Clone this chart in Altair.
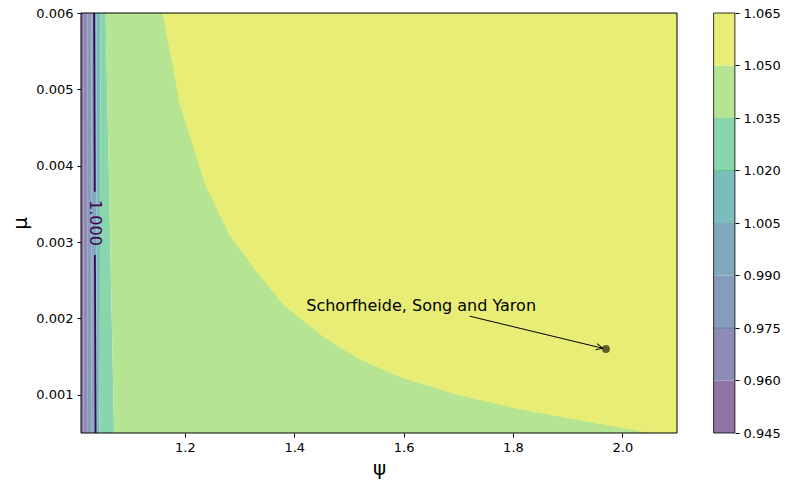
import altair as alt
import pandas as pd

# contour levels and band colours (viridis, alpha 0.6 on white)
levels = [0.945, 0.960, 0.975, 0.990, 1.005, 1.020, 1.035, 1.050, 1.065]
band_colors = ["#9174a6", "#8e8bb6", "#879bba", "#80aabb",
               "#7abdba", "#89d6ad", "#b5e593", "#e8ee75"]
band_names = [f"{levels[i]:.3f}-{levels[i+1]:.3f}" for i in range(8)]

psi_range = [1.01, 2.1]
mu_range = [0.0005, 0.006]

# band boundaries on the left (psi at mu top / mu bottom)
edge_psi_top = [1.0138, 1.0221, 1.0294, 1.0385, 1.0458, 1.0550]
edge_psi_bottom = [1.0148, 1.0221, 1.0294, 1.0385, 1.0440, 1.0705]

# boundary of the 1.050-1.065 region
curve_psi = [1.159, 1.191, 1.237, 1.282, 1.331, 1.380, 1.453, 1.515,
             1.594, 1.698, 1.818, 1.941, 2.051]
curve_mu = [0.0060, 0.0048, 0.00375, 0.00309, 0.00261, 0.00218, 0.00176,
            0.00148, 0.00123, 0.00100, 0.00080, 0.00064, 0.0005]

# 1.000 contour line (two segments around label)
line_seg = ["a", "a", "b", "b"]
line_psi = [1.0340, 1.0352, 1.0354, 1.0367]
line_mu = [0.0060, 0.00366, 0.00283, 0.0005]
line_label = ["1.000"]
line_label_psi = [1.0353]
line_label_mu = [0.00325]

# annotation
point_psi = [1.97]
point_mu = [0.0016]
note_text = ["Schorfheide, Song and Yaron"]
note_psi = [1.422]
note_mu = [0.0021]
arrow_psi = [1.7207, 1.9639]
arrow_mu = [0.00203, 0.00161]

# colourbar edge lines
cb_line_levels = [0.975, 1.020]
cb_line_colors = ["#5f80b2", "#5cc38c"]

# ---------------- data frames ----------------
rows = []
for i in range(7):
    lt = psi_range[0] if i == 0 else edge_psi_top[i - 1]
    lb = psi_range[0] if i == 0 else edge_psi_bottom[i - 1]
    rt = edge_psi_top[i] if i < 6 else psi_range[1]
    rb = edge_psi_bottom[i] if i < 6 else psi_range[1]
    rows.append(dict(band=band_names[i], mu=mu_range[0], left=lb, right=rb))
    rows.append(dict(band=band_names[i], mu=mu_range[1], left=lt, right=rt))
bands_df = pd.DataFrame(rows)

yellow_df = pd.DataFrame({"mu": curve_mu[::-1], "left": curve_psi[::-1],
                          "right": [psi_range[1]] * len(curve_mu),
                          "band": [band_names[7]] * len(curve_mu)})

line_df = pd.DataFrame({"seg": line_seg, "psi": line_psi, "mu": line_mu,
                        "idx": list(range(len(line_psi)))})
label_df = pd.DataFrame({"t": line_label, "psi": line_label_psi, "mu": line_label_mu})
point_df = pd.DataFrame({"psi": point_psi, "mu": point_mu})
note_df = pd.DataFrame({"t": note_text, "psi": note_psi, "mu": note_mu})
arrow_df = pd.DataFrame({"psi": [arrow_psi[0]], "mu": [arrow_mu[0]],
                         "psi2": [arrow_psi[1]], "mu2": [arrow_mu[1]]})
head_df = pd.DataFrame({"psi": [arrow_psi[1]], "mu": [arrow_mu[1]]})
frame_df = pd.DataFrame({"left": [psi_range[0]], "right": [psi_range[1]],
                         "mu": [mu_range[0]], "mu2": [mu_range[1]]})

cb_df = pd.DataFrame({"band": band_names, "lo": levels[:-1], "hi": levels[1:]})
cb_frame_df = pd.DataFrame({"lo": [levels[0]], "hi": [levels[-1]]})
cb_lines_df = pd.DataFrame({"lo": cb_line_levels, "c": cb_line_colors})

# ---------------- scales / axes ----------------
FONT = "DejaVu Sans"
xscale = alt.Scale(domain=psi_range, nice=False, zero=False)
yscale = alt.Scale(domain=mu_range, nice=False, zero=False)
cscale = alt.Scale(domain=band_names, range=band_colors)

xaxis = alt.Axis(values=[1.2, 1.4, 1.6, 1.8, 2.0], format=".1f", grid=False,
                 domain=False, tickSize=4, tickColor="black", labelPadding=4,
                 labelFontSize=13, labelColor="black", titleFontSize=20,
                 titleFontWeight="normal", titleColor="black",
                 titleBaseline="middle", titleY=35)
yaxis = alt.Axis(values=[0.001, 0.002, 0.003, 0.004, 0.005, 0.006], format=".3f",
                 grid=False, domain=False, tickSize=4, tickColor="black",
                 labelPadding=4, labelFontSize=13, labelColor="black",
                 titleFontSize=20, titleFontWeight="normal", titleColor="black",
                 titleBaseline="middle", titleX=-61, titleY=210)

X = alt.X("left:Q", scale=xscale, axis=xaxis, title="ψ")
Y = alt.Y("mu:Q", scale=yscale, axis=yaxis, title="μ")

band_layers = []
for i in range(7):
    sub = bands_df[bands_df["band"] == band_names[i]]
    band_layers.append(
        alt.Chart(sub).mark_area(orient="horizontal", color=band_colors[i]).encode(
            x=X, x2="right:Q", y=Y))

yellow = alt.Chart(yellow_df).mark_area(orient="horizontal", color=band_colors[7]).encode(
    x=X, x2="right:Q", y=Y)

contour = alt.Chart(line_df).mark_line(color="#440154", strokeWidth=1.8).encode(
    x=alt.X("psi:Q", scale=xscale, axis=xaxis, title="ψ"),
    y=alt.Y("mu:Q", scale=yscale, axis=yaxis, title="μ"),
    detail="seg:N", order="idx:Q")

contour_label = alt.Chart(label_df).mark_text(
    angle=90, fontSize=16, color="#440154", align="center", baseline="middle",
    font=FONT).encode(x="psi:Q", y="mu:Q", text="t:N")

arrow = alt.Chart(arrow_df).mark_rule(color="black", strokeWidth=1).encode(
    x="psi:Q", y="mu:Q", x2="psi2:Q", y2="mu2:Q")

head = alt.Chart(head_df).mark_point(
    shape="M -1 -0.5 L 0 0 L -1 0.5", size=164, angle=13.7, filled=False,
    stroke="black", strokeWidth=1, opacity=1).encode(x="psi:Q", y="mu:Q")

dot = alt.Chart(point_df).mark_circle(size=64, color="black", opacity=0.6).encode(
    x="psi:Q", y="mu:Q")

note = alt.Chart(note_df).mark_text(
    align="left", baseline="alphabetic", fontSize=16, color="black",
    font=FONT).encode(x="psi:Q", y="mu:Q", text="t:N")

frame = alt.Chart(frame_df).mark_rect(
    fillOpacity=0, stroke="black", strokeWidth=1).encode(
    x="left:Q", x2="right:Q", y="mu:Q", y2="mu2:Q")

main = alt.layer(*band_layers, yellow, contour, contour_label, arrow, head, dot,
                 note, frame)

cb_scale = alt.Scale(domain=[levels[0], levels[-1]], nice=False, zero=False)
cb_axis = alt.Axis(orient="right", offset=58, values=levels, format=".3f",
                   grid=False, domain=False, tickSize=4, tickColor="black",
                   labelPadding=4, labelFontSize=13, labelColor="black",
                   title=None)
cb_rects = alt.Chart(cb_df).mark_rect().encode(
    x=alt.value(632.6), x2=alt.value(653.9),
    y=alt.Y("lo:Q", scale=cb_scale, axis=cb_axis), y2="hi:Q",
    color=alt.Color("band:N", scale=cscale, legend=None))
cb_lines = alt.Chart(cb_lines_df).mark_rule(strokeWidth=1).encode(
    x=alt.value(632.6), x2=alt.value(653.9),
    y=alt.Y("lo:Q", scale=cb_scale, axis=cb_axis),
    color=alt.Color("c:N", scale=None))
cb_frame = alt.Chart(cb_frame_df).mark_rect(
    fillOpacity=0, stroke="black", strokeWidth=0.8).encode(
    x=alt.value(632.6), x2=alt.value(653.9),
    y=alt.Y("lo:Q", scale=cb_scale, axis=cb_axis), y2="hi:Q")
cbar = alt.layer(cb_rects, cb_lines, cb_frame).resolve_scale(color="independent")

chart = alt.layer(main, cbar).resolve_scale(y="independent").properties(
    width=596, height=420,
    autosize=alt.AutoSizeParams(type="none"),
    padding={"left": 81, "top": 13, "right": 108, "bottom": 51},
).configure(font=FONT, background="white").configure_view(stroke=None)

chart.save("out.html", embed_options={"renderer": "svg", "actions": False})
